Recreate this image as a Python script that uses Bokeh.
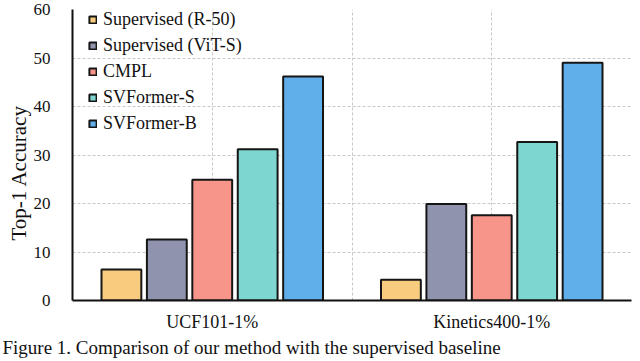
from bokeh.plotting import figure
from bokeh.models import Range1d, FixedTicker, Title
from bokeh.embed import file_html
from bokeh.resources import INLINE

# ---- data ----
groups = ["UCF101-1%", "Kinetics400-1%"]
methods = ["Supervised (R-50)", "Supervised (ViT-S)", "CMPL", "SVFormer-S", "SVFormer-B"]
colors = ["#F8CB7F", "#9093AD", "#F8958A", "#7DD6CF", "#61AFEA"]
ucf101 = [6.4, 12.6, 24.9, 31.2, 46.2]
kinetics400 = [4.3, 19.9, 17.6, 32.7, 49.0]
y_ticks = [0, 10, 20, 30, 40, 50, 60]
group_pos = [1, 3]
grid_x = [1, 2, 3, 4]
y_label = "Top-1 Accuracy"
caption = "Figure 1. Comparison of our method with the supervised baseline"

FONT = "Liberation Serif"
step = 0.325
bar_w = 0.285

p = figure(width=640, height=361, output_backend="svg", toolbar_location=None,
           x_range=Range1d(0, 4), y_range=Range1d(0, 60),
           min_border_left=72, min_border_right=9, min_border_top=9, min_border_bottom=61)
p.outline_line_color = None
p.background_fill_color = "white"

for i, m in enumerate(methods):
    xs = [g + (i - 2) * step for g in group_pos]
    tops = [ucf101[i], kinetics400[i]]
    p.vbar(x=xs, top=tops, width=bar_w, bottom=0, fill_color=colors[i],
           line_color="#151515", line_width=2, legend_label=m)

# grids
p.xgrid.ticker = FixedTicker(ticks=grid_x)
p.ygrid.ticker = FixedTicker(ticks=y_ticks[1:])
for g in (p.xgrid, p.ygrid):
    g.grid_line_color = "#c8c8c8"
    g.grid_line_dash = "3 2"
    g.grid_line_width = 1

# axes
p.yaxis.ticker = FixedTicker(ticks=y_ticks)
p.xaxis.ticker = FixedTicker(ticks=group_pos)
p.xaxis.major_label_overrides = {group_pos[k]: groups[k] for k in range(len(groups))}
for ax in (p.xaxis, p.yaxis):
    ax.axis_line_color = "#111111"
    ax.axis_line_width = 2
    ax.major_tick_line_color = None
    ax.minor_tick_line_color = None
    ax.major_label_text_font = FONT
    ax.major_label_text_color = "#111111"
p.yaxis.major_label_text_font_size = "17px"
p.yaxis.major_label_standoff = 16
p.xaxis.major_label_text_font_size = "18px"
p.xaxis.major_label_standoff = 5

# legend (location = bottom-left corner, px from the frame's bottom-left)
lg = p.legend[0]
lg.location = (16, 164)
lg.label_text_font = FONT
lg.label_text_font_size = "18px"
lg.label_text_color = "#111111"
lg.glyph_width = 9
lg.glyph_height = 9
lg.label_height = 26
lg.spacing = 0
lg.padding = 0
lg.margin = 0
lg.label_standoff = 6
lg.border_line_color = None
lg.background_fill_alpha = 0

# y axis title as a side title (starts 60px above the frame bottom)
p.add_layout(Title(text=y_label, align="left", offset=60, standoff=0,
                   text_font=FONT, text_font_size="21px", text_font_style="normal",
                   text_color="#111111"), "left")
# caption below the chart
p.add_layout(Title(text=caption, align="left", offset=-70, standoff=0,
                   vertical_align="bottom",
                   text_font=FONT, text_font_size="19px", text_font_style="normal",
                   text_color="#111111"), "below")

open("out.html", "w").write(file_html(p, INLINE))
